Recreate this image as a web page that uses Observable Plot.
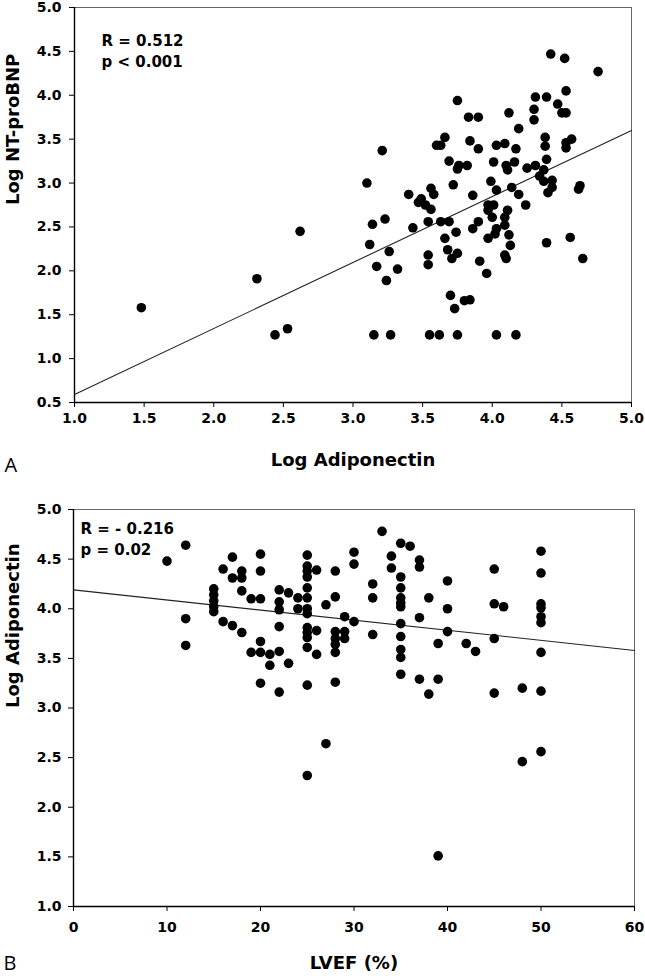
<!DOCTYPE html>
<html><head><meta charset="utf-8">
<script src="https://cdn.jsdelivr.net/npm/d3@7"></script>
<script src="https://cdn.jsdelivr.net/npm/@observablehq/plot@0.6"></script>
<style>
html,body{margin:0;padding:0;background:#fff;}
#chart > div, #chart svg{display:block;}
</style></head><body><div id="chart"></div>
<script>
// ---------- Panel A: Log Adiponectin vs Log NT-proBNP ----------
const adiponectinA = [4.42,4.52,4.76,4.31,4.39,4.53,3.75,4.30,4.47,4.50,4.53,3.83,3.90,4.12,4.30,4.19,3.66,3.63,3.60,3.84,
  3.90,4.03,4.09,4.17,4.38,4.38,4.53,4.57,4.53,3.21,3.69,3.76,3.82,3.75,4.01,4.10,4.16,4.11,4.25,4.31,
  4.39,4.37,3.10,3.72,3.99,4.14,4.03,4.34,4.37,4.43,4.43,4.40,4.63,4.62,3.40,3.56,3.58,3.49,3.86,4.19,
  3.47,3.52,3.56,3.97,4.01,3.97,4.24,4.11,4.09,4.00,4.09,4.03,3.90,3.86,3.97,4.02,4.12,4.13,4.39,4.56,
  4.65,4.09,4.10,3.91,3.96,3.69,3.63,3.54,3.66,3.74,3.68,3.71,3.75,3.54,3.54,3.43,3.23,3.14,3.12,3.26,
  3.17,3.32,3.24,2.62,2.31,1.48,2.44,2.53,3.70,3.73,3.80,3.84,3.15,3.27,3.55,3.62,3.75,4.03,4.17];
const ntprobnpA = [4.47,4.42,4.27,3.98,3.98,4.05,3.94,3.84,3.90,3.80,3.80,3.75,3.75,3.80,3.72,3.62,3.52,3.43,3.43,3.48,
  3.39,3.43,3.45,3.39,3.52,3.42,3.46,3.50,3.40,3.37,3.25,3.20,3.20,3.16,3.24,3.20,3.24,3.15,3.17,3.20,
  3.27,3.15,3.00,2.98,3.02,2.95,2.92,3.08,3.02,3.03,2.95,2.89,2.97,2.93,2.87,2.94,2.87,2.82,2.86,2.87,
  2.78,2.75,2.70,2.75,2.75,2.69,2.75,2.69,2.61,2.61,2.52,2.48,2.56,2.48,2.37,2.42,2.41,2.29,2.32,2.38,
  2.14,2.18,2.14,2.11,1.97,2.56,2.56,2.56,2.37,2.44,2.24,2.14,2.20,2.18,2.07,2.49,2.59,2.53,2.30,2.22,
  2.05,2.02,1.89,2.45,1.91,1.58,1.27,1.34,1.72,1.57,1.66,1.67,1.27,1.27,1.27,1.27,1.27,1.27,1.27];
const fitXA = [1.0, 5.0];
const fitYA = [0.59, 3.60];
const xTicksA = [1.0,1.5,2.0,2.5,3.0,3.5,4.0,4.5,5.0];
const yTicksA = [0.5,1.0,1.5,2.0,2.5,3.0,3.5,4.0,4.5,5.0];
const statsA = ["R = 0.512", "p < 0.001"];

// ---------- Panel B: LVEF vs Log Adiponectin ----------
const lvefB = [10,12,12,12,15,15,15,15,15,16,16,17,17,17,18,18,18,18,19,19,
  20,20,20,20,20,20,21,21,22,22,22,22,22,22,23,23,24,24,
  25,25,25,25,25,25,25,25,25,25,25,25,25,25,26,26,26,27,27,
  28,28,28,28,28,28,28,29,29,29,30,30,30,32,32,32,33,34,34,35,36,
  35,35,35,35,35,35,35,35,35,35,37,37,37,37,38,38,39,39,39,40,40,40,
  42,43,45,45,46,45,45,48,48,50,50,50,50,50,50,50,50,50];
const adiponectinB = [4.48,4.64,3.90,3.63,4.20,4.14,4.08,4.02,3.97,4.40,3.87,4.52,4.31,3.83,4.38,4.31,4.18,3.76,4.10,3.56,
  4.55,4.38,4.10,3.67,3.56,3.25,3.54,3.43,4.19,4.07,3.99,3.82,3.57,3.16,4.16,3.45,4.11,4.00,
  4.54,4.43,4.38,4.32,4.21,4.11,4.00,3.95,3.81,3.76,3.71,3.61,3.23,2.32,4.39,3.78,3.54,4.04,2.64,
  4.38,4.12,3.77,3.70,3.64,3.56,3.26,3.92,3.77,3.70,4.57,4.45,3.87,4.25,4.11,3.74,4.78,4.53,4.41,4.66,4.63,
  4.32,4.21,4.11,4.06,4.02,3.85,3.72,3.59,3.51,3.34,4.49,4.42,3.91,3.29,4.11,3.14,3.65,3.29,1.51,4.28,4.00,3.77,
  3.65,3.57,4.40,4.05,4.02,3.70,3.15,3.20,2.46,4.58,4.36,4.05,4.01,3.92,3.86,3.56,3.17,2.56];
const fitXB = [0, 60];
const fitYB = [4.19, 3.58];
const xTicksB = [0,10,20,30,40,50,60];
const yTicksB = [1.0,1.5,2.0,2.5,3.0,3.5,4.0,4.5,5.0];
const statsB = ["R = - 0.216", "p = 0.02"];

const FONT = "'DejaVu Sans', sans-serif";
const f1 = d3.format(".1f");

function panel(o) {
  const pts = o.xs.map((x, i) => ({x, y: o.ys[i]}));
  const fit = o.fitX.map((x, i) => ({x, y: o.fitY[i]}));
  return Plot.plot({
    width: 645, height: o.height,
    marginLeft: o.ml, marginRight: o.mr, marginTop: o.mt, marginBottom: o.mb,
    style: {fontFamily: FONT, fontWeight: "bold", fontSize: "14px", color: "#000", background: "#fff"},
    x: {domain: o.xDomain},
    y: {domain: o.yDomain},
    marks: [
      Plot.frame({stroke: "#666", strokeWidth: 1}),
      Plot.ruleX([o.xDomain[0]], {stroke: "#000", strokeWidth: 1.4}),
      Plot.ruleY([o.yDomain[0]], {stroke: "#000", strokeWidth: 1.4}),
      Plot.axisX({ticks: o.xTicks, tickFormat: o.xFmt, tickSize: 5, tickPadding: o.xPad, label: null, fontSize: 14, fontWeight: "bold"}),
      Plot.axisY({ticks: o.yTicks, tickFormat: f1, tickSize: 5, tickPadding: o.yPad, label: null, fontSize: 14, fontWeight: "bold"}),
      Plot.line(fit, {x: "x", y: "y", stroke: "#222", strokeWidth: 1.1}),
      Plot.dot(pts, {x: "x", y: "y", r: 4.8, fill: "#000", stroke: "none"}),
      Plot.text([o.stats[0]], {frameAnchor: "top-left", dx: o.sdx, dy: o.sdy1, textAnchor: "start", lineAnchor: "middle", fontSize: 15, fontWeight: "bold"}),
      Plot.text([o.stats[1]], {frameAnchor: "top-left", dx: o.sdx, dy: o.sdy2, textAnchor: "start", lineAnchor: "middle", fontSize: 15, fontWeight: "bold"}),
      Plot.text([o.xTitle], {frameAnchor: "bottom", dy: o.xtdy, lineAnchor: "middle", fontSize: 18, fontWeight: "bold"}),
      Plot.text([o.yTitle], {frameAnchor: "left", dx: o.ytdx, rotate: -90, lineAnchor: "middle", fontSize: 18, fontWeight: "bold"}),
      Plot.text([o.letter], {frameAnchor: "bottom-left", dx: o.ldx, dy: o.ldy, textAnchor: "start", lineAnchor: "middle", fontSize: 20, fontWeight: "normal", fontFamily: "'Open Sans', sans-serif"})
    ]
  });
}

const chart = document.getElementById("chart");
chart.append(panel({
  xs: adiponectinA, ys: ntprobnpA, fitX: fitXA, fitY: fitYA,
  height: 482, ml: 74, mr: 14, mt: 7, mb: 80,
  xDomain: [1, 5], yDomain: [0.5, 5], xTicks: xTicksA, yTicks: yTicksA, xFmt: f1,
  xPad: 6, yPad: 8,
  stats: statsA, sdx: 27, sdy1: 34, sdy2: 55,
  xTitle: "Log Adiponectin", xtdy: 58, yTitle: "Log NT-proBNP", ytdx: -61,
  letter: "A", ldx: -70, ldy: 63
}));
chart.append(panel({
  xs: lvefB, ys: adiponectinB, fitX: fitXB, fitY: fitYB,
  height: 496, ml: 73, mr: 11, mt: 27, mb: 72,
  xDomain: [0, 60], yDomain: [1, 5], xTicks: xTicksB, yTicks: yTicksB, xFmt: d3.format("d"),
  xPad: 11, yPad: 7,
  stats: statsB, sdx: 7, sdy1: 20, sdy2: 41,
  xTitle: "LVEF (%)", xtdy: 57, yTitle: "Log Adiponectin", ytdx: -60,
  letter: "B", ldx: -70, ldy: 57
}));
</script></body></html>
